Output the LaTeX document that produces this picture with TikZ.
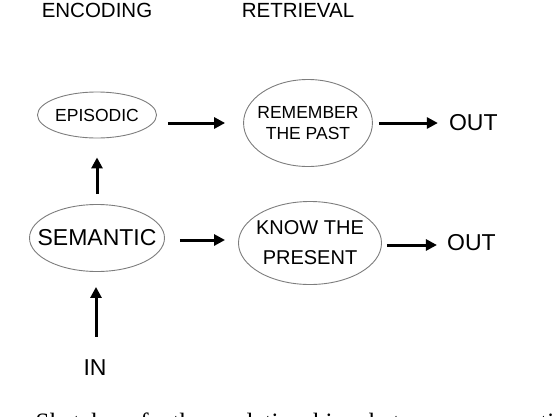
\documentclass[tikz,border=0pt]{standalone}
\usepackage{fontspec}
\setmainfont{Liberation Sans}
\newfontfamily\capfont{Liberation Serif}
\usetikzlibrary{arrows.meta,positioning,shapes.geometric}
\definecolor{ovalgray}{RGB}{125,125,125}
\newcommand{\fs}[2]{\fontsize{#1}{#2}\selectfont}

\begin{document}
\begin{tikzpicture}[x=1pt,y=-1pt,
    oval/.style={ellipse,draw=ovalgray,line width=0.9pt,inner sep=0pt,align=center},
    arr/.style={-{Triangle[length=11pt,width=11pt]},line width=3pt},
    head/.style={inner sep=0pt,font=\fs{20.5}{24}},
    word/.style={inner sep=0pt,font=\fs{23}{27}}]
  \useasboundingbox (0,0) rectangle (558,416);
  \clip (0,0) rectangle (558,416);
  \node[head] (enc) at (97,10) {ENCODING};
  \node[head] (ret) at (298,10) {RETRIEVAL};
  % ovals
  \node[oval,minimum width=119pt,minimum height=46pt,inner xsep=-2pt,font=\fs{17.5}{21}] (epi) at (97,115) {EPISODIC};
  \node[oval,minimum width=127pt,minimum height=87pt,inner xsep=-5pt,font=\fs{17.5}{21}] (rem) at (308,123) {REMEMBER\\THE PAST};
  \node[oval,minimum width=135pt,minimum height=67pt,inner xsep=-13pt,font=\fs{23}{27}] (sem) at (97,238) {SEMANTIC};
  \node[oval,minimum width=143pt,minimum height=83pt,inner xsep=-5pt,font=\fs{20}{30}] (know) at (310,243) {KNOW THE\\PRESENT};
  % in / out
  \node[word,right=76pt of rem] (out1) {OUT};
  \node[word,right=65pt of know] (out2) {OUT};
  \node[word,below=88pt of sem,xshift=-2pt] (in) {IN};
  % arrows
  \draw[arr] ([xshift=11pt,yshift=-8pt]epi.east) -- ([xshift=-18pt]rem.west);
  \draw[arr] ([xshift=6pt]rem.east) -- ([xshift=-11pt]out1.west);
  \draw[arr] ([yshift=10pt]sem.north) -- ([yshift=-19pt]epi.south);
  \draw[arr] ([xshift=15pt,yshift=-2pt]sem.east) -- ([xshift=-13pt,yshift=3pt]know.west);
  \draw[arr] ([xshift=5pt,yshift=-2pt]know.east) -- ([xshift=-10pt,yshift=-2pt]out2.west);
  \draw[arr] ([xshift=1pt,yshift=23pt]in.north) -- ([xshift=-1pt,yshift=-15pt]sem.south);
  % cut caption
  \node[inner sep=0pt,anchor=base west,font=\capfont\fs{25}{30}] (cap) at (-10,430)
    {\spaceskip=24pt 1: Sketch of the relationship between semantic};
\end{tikzpicture}
\end{document}
